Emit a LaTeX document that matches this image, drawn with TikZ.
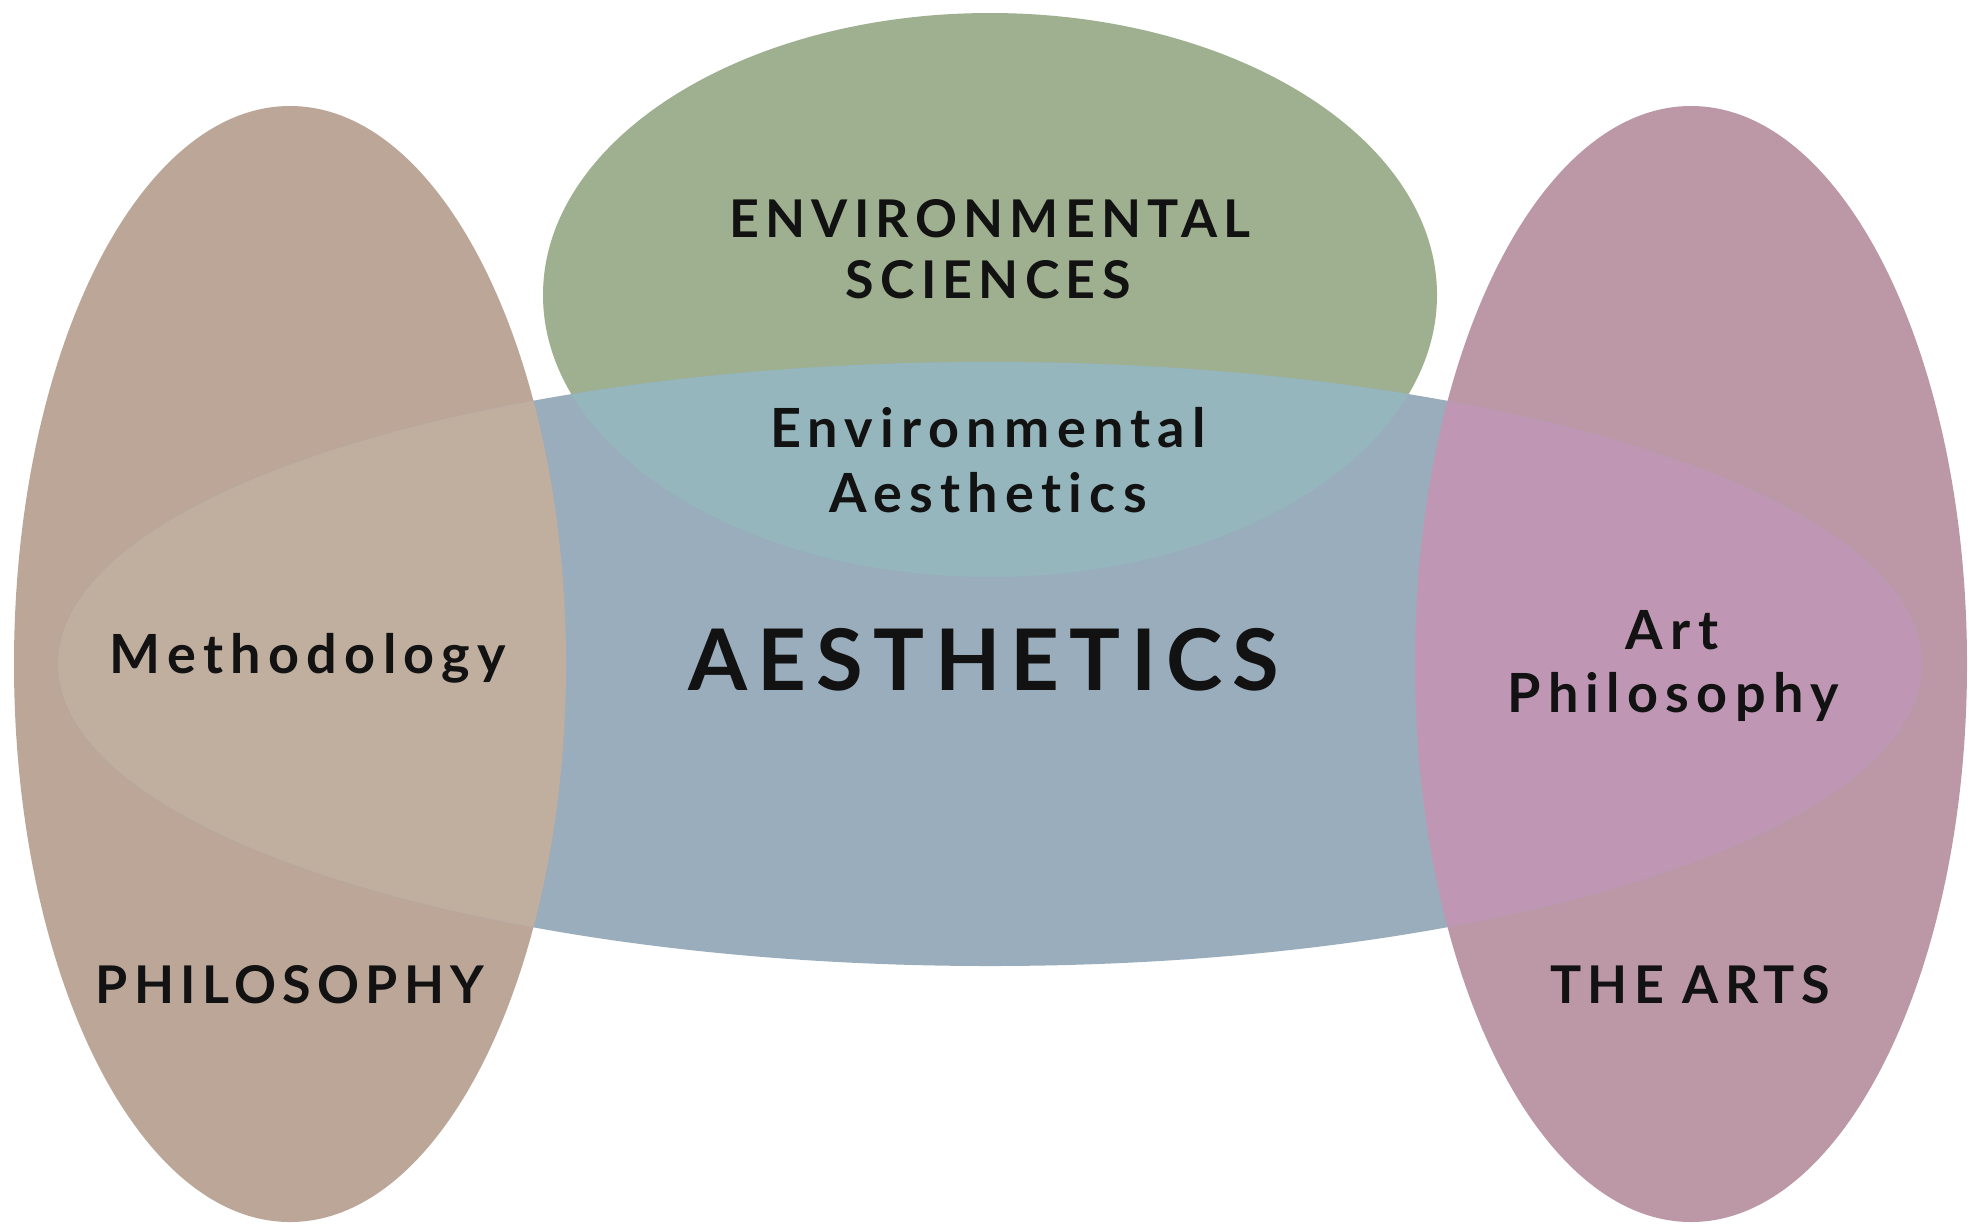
\documentclass[tikz,border=0pt]{standalone}
\usepackage{fontspec}
\setmainfont{Lato}[Ligatures={NoCommon,TeX}]
\definecolor{philo}{RGB}{187,166,152}
\definecolor{philoblue}{RGB}{192,174,159}
\definecolor{arts}{RGB}{188,151,166}
\definecolor{artsblue}{RGB}{191,151,181}
\definecolor{envsci}{RGB}{159,176,144}
\definecolor{envblue}{RGB}{148,182,188}
\definecolor{aesth}{RGB}{154,173,188}
\begin{document}
\begin{tikzpicture}[x=0.5pt,y=-0.5pt,
  lbl/.style={anchor=base, inner sep=0pt, text=black!93},
  capsA/.style={lbl, font=\fontsize{26}{30}\selectfont\bfseries\addfontfeatures{LetterSpace=12}},
  lowA/.style={lbl, font=\fontsize{27}{30}\selectfont\bfseries\addfontfeatures{LetterSpace=13.5}},
  bigA/.style={lbl, font=\fontsize{42.5}{50}\selectfont\bfseries\addfontfeatures{LetterSpace=12}}]
\useasboundingbox (0,0) rectangle (1970,1223);
\fill[white] (0,0) rectangle (1970,1223);
% base shapes
\fill[philo] (290,664) ellipse [x radius=276, y radius=558];
\fill[arts] (1691,664) ellipse [x radius=276, y radius=558];
\fill[envsci] (990,295) ellipse [x radius=447, y radius=282];
\fill[aesth] (990,664) ellipse [x radius=932, y radius=302];
% overlaps
\begin{scope}
  \clip (990,664) ellipse [x radius=932, y radius=302];
  \fill[philoblue] (290,664) ellipse [x radius=276, y radius=558];
  \fill[artsblue] (1691,664) ellipse [x radius=276, y radius=558];
  \fill[envblue] (990,295) ellipse [x radius=447, y radius=282];
\end{scope}
% labels
\node[capsA] (envsci1) at (990,237) {ENVIRONMENTAL};
\node[capsA] (envsci2) at (988,298) {SCIENCES};
\node[lowA] (envaes1) at (988,447) {Environmental};
\node[lowA] (envaes2) at (988,512) {Aesthetics};
\node[bigA] (aesthetics) at (984,690) {AESTHETICS};
\node[lowA] (method) at (308,673) {Methodology};
\node[lowA] (art1) at (1672,649) {Art};
\node[lowA] (art2) at (1673,712) {Philosophy};
\node[capsA] (philosophy) at (290,1003) {PHILOSOPHY};
\node[capsA] (thearts) at (1690,1003) {THE ARTS};
\end{tikzpicture}
\end{document}
